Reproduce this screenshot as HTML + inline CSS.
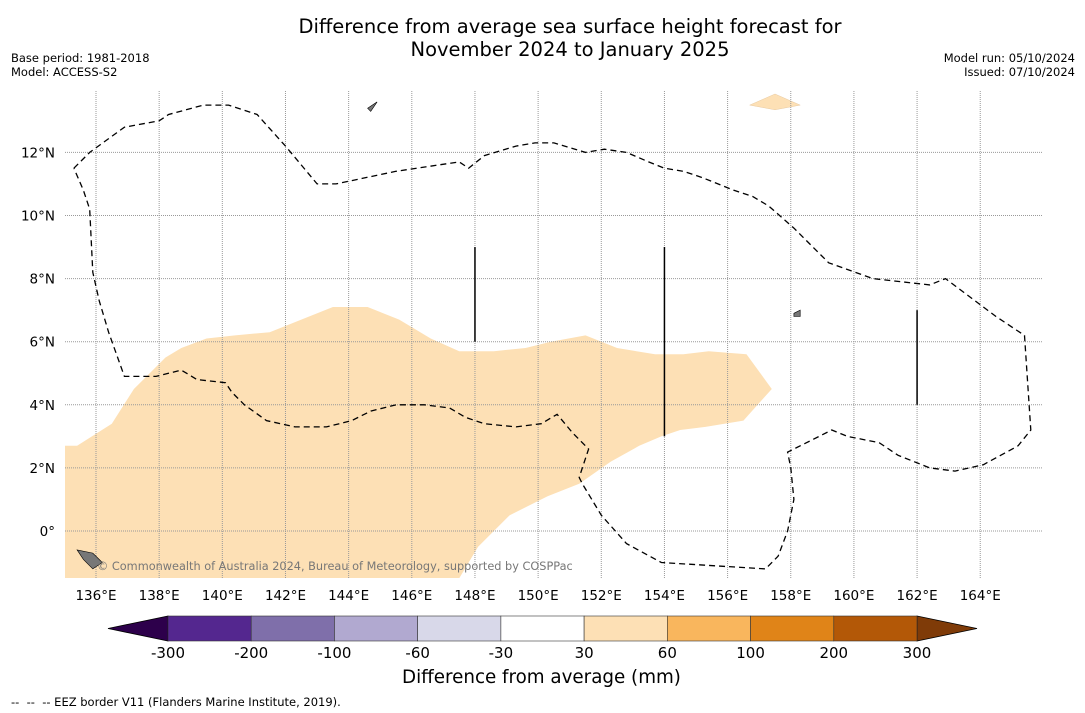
<!DOCTYPE html>
<html><head><meta charset="utf-8"><style>
body{margin:0;background:#fff;font-family:"DejaVu Sans","Liberation Sans",sans-serif;}
#wrap{position:relative;width:1085px;height:713px;overflow:hidden;background:#fff}
.t{position:absolute;white-space:nowrap;color:#000}
</style></head><body>
<div id="wrap">
<div class="t" style="left:0;width:1140px;text-align:center;top:15px;font-size:19.5px;line-height:23px">Difference from average sea surface height forecast for<br>November 2024 to January 2025</div>
<div class="t" style="left:11px;top:51px;font-size:11.5px;line-height:14px">Base period: 1981-2018<br>Model: ACCESS-S2</div>
<div class="t" style="right:10px;top:51px;font-size:11.5px;line-height:14px;text-align:right">Model run: 05/10/2024<br>Issued: 07/10/2024</div>
<svg id="map" width="1085" height="713" style="position:absolute;left:0;top:0"></svg>
<div class="t" style="left:402px;top:667px;font-size:18.3px">Difference from average (mm)</div>
<div class="t" style="left:11px;top:695px;font-size:11.5px">--&nbsp; --&nbsp; -- EEZ border V11 (Flanders Marine Institute, 2019).</div>
</div>
<script>
const lonTicks=[136,138,140,142,144,146,148,150,152,154,156,158,160,162,164];
const latTicks=[0,2,4,6,8,10,12];
const cbBounds=[-300,-200,-100,-60,-30,30,60,100,200,300];
const cbColors=["#54278f","#7f6faa","#b1a9d0","#d8d8e9","#ffffff","#fde0b5","#f9b65d","#e08418","#b35807"];
const anomalyRegion=[[134.9,2.7],[135.4,2.7],[136.5,3.4],[137.2,4.5],[138.2,5.5],[138.7,5.8],[139.5,6.1],[140.4,6.2],[141.5,6.3],[142.5,6.7],[143.5,7.1],[144.6,7.1],[145.6,6.7],[146.6,6.1],[147.5,5.7],[148.6,5.7],[149.6,5.8],[150.4,6.0],[151.5,6.2],[152.5,5.8],[153.7,5.6],[154.6,5.6],[155.4,5.7],[156.6,5.6],[157.4,4.5],[156.5,3.5],[155.3,3.3],[154.5,3.2],[153.9,3.0],[153.2,2.7],[152.3,2.2],[151.3,1.5],[150.3,1.1],[149.1,0.5],[148.1,-0.5],[147.5,-1.5],[134.9,-1.5]];
const smallRegion=[[156.7,13.5],[157.5,13.85],[158.3,13.5],[157.5,13.35]];
const islands=[[[135.4,-0.6],[135.9,-0.7],[136.2,-1.0],[135.9,-1.2],[135.6,-0.9]],[[144.6,13.4],[144.9,13.6],[144.7,13.3]],[[158.1,6.9],[158.3,7.0],[158.3,6.8],[158.1,6.8]]];
const eezBorder=[[135.3,11.5],[135.8,12.0],[136.9,12.8],[138.0,13.0],[138.3,13.2],[139.4,13.5],[140.2,13.5],[141.1,13.2],[142.0,12.2],[143.0,11.0],[143.6,11.0],[145.5,11.4],[147.5,11.7],[147.8,11.5],[148.3,11.9],[149.3,12.2],[149.9,12.3],[150.5,12.3],[151.5,12.0],[152.1,12.1],[152.8,12.0],[153.5,11.7],[154.0,11.5],[154.6,11.4],[155.2,11.2],[156.2,10.8],[156.8,10.6],[157.3,10.3],[158.1,9.6],[159.2,8.5],[160.6,8.0],[162.4,7.8],[162.9,8.0],[164.5,6.8],[165.4,6.2],[165.6,3.2],[165.2,2.7],[164.1,2.1],[163.2,1.9],[162.4,2.0],[161.4,2.4],[160.8,2.8],[159.8,3.0],[159.3,3.2],[158.5,2.8],[157.9,2.5],[158.0,2.0],[158.1,1.0],[157.9,0.0],[157.6,-0.8],[157.2,-1.2],[153.9,-1.0],[152.8,-0.4],[152.0,0.5],[151.4,1.5],[151.3,1.7],[151.6,2.6],[151.1,3.1],[150.6,3.7],[150.1,3.4],[149.3,3.3],[148.3,3.4],[147.7,3.6],[147.2,3.9],[146.4,4.0],[145.5,4.0],[144.7,3.8],[144.1,3.5],[143.3,3.3],[142.3,3.3],[141.4,3.5],[140.7,4.0],[140.3,4.4],[140.1,4.7],[139.2,4.8],[138.7,5.1],[137.9,4.9],[136.9,4.9],[136.4,6.3],[136.1,7.3],[135.9,8.2],[135.8,10.2],[135.6,10.8],[135.3,11.5]];
const boundaryLines=[[148,9.0,6.0],[154,9.0,3.0],[162,7.0,4.0]];
const NS="http://www.w3.org/2000/svg";
const svg=document.getElementById('map');
const X=lon=>96+(lon-136)*31.58;
const Y=lat=>531-lat*31.55;
function mk(t,a){const e=document.createElementNS(NS,t);for(const k in a)e.setAttribute(k,a[k]);svg.appendChild(e);return e;}
const clip=mk('clipPath',{id:'mc'});const cr=document.createElementNS(NS,'rect');
cr.setAttribute('x',65);cr.setAttribute('y',91);cr.setAttribute('width',977);cr.setAttribute('height',487);clip.appendChild(cr);
const pts=a=>a.map(p=>X(p[0]).toFixed(1)+','+Y(p[1]).toFixed(1)).join(' ');
let e=mk('polygon',{points:pts(anomalyRegion),fill:'#fde0b5','clip-path':'url(#mc)'});


e=mk('polygon',{points:pts(smallRegion),fill:'#fde0b5',stroke:'#e8c9a0','stroke-width':0.5});


lonTicks.forEach(l=>{const x=X(l);
 e=mk('line',{x1:x,x2:x,y1:91,y2:578,stroke:'#999','stroke-width':1,'stroke-dasharray':'1,1'});
 
 
 e=mk('text',{x:x,y:600,'text-anchor':'middle','font-size':13.5,'font-family':'DejaVu Sans,sans-serif'});e.textContent=l+'°E';
 
 
});
latTicks.forEach(l=>{const y=Y(l);
 e=mk('line',{x1:65,x2:1042,y1:y,y2:y,stroke:'#999','stroke-width':1,'stroke-dasharray':'1,1'});
 
 
 e=mk('text',{x:55,y:y+5,'text-anchor':'end','font-size':13.5,'font-family':'DejaVu Sans,sans-serif'});e.textContent=l===0?'0°':l+'°N';
 
 
});
islands.forEach(p=>{e=mk('polygon',{points:pts(p),fill:'#777',stroke:'#000','stroke-width':0.6});
 
 });
e=mk('polyline',{points:pts(eezBorder),fill:'none',stroke:'#000','stroke-width':1.3,'stroke-dasharray':'6,4'});


boundaryLines.forEach(b=>{e=mk('line',{x1:X(b[0]),x2:X(b[0]),y1:Y(b[1]),y2:Y(b[2]),stroke:'#000','stroke-width':1.5});
 
 });
e=mk('text',{x:97,y:570,'font-size':11.3,fill:'#777','font-family':'DejaVu Sans,sans-serif'});e.textContent='© Commonwealth of Australia 2024, Bureau of Meteorology, supported by COSPPac';


const cbX0=168,cbX1=917,cbY=616,cbH=25,segW=(cbX1-cbX0)/cbColors.length;
e=mk('polygon',{points:`${cbX0},${cbY} 108,${cbY+cbH/2} ${cbX0},${cbY+cbH}`,fill:'#2d004b',stroke:'#000','stroke-width':0.8});


e=mk('polygon',{points:`${cbX1},${cbY} 977,${cbY+cbH/2} ${cbX1},${cbY+cbH}`,fill:'#7f3b08',stroke:'#000','stroke-width':0.8});


cbColors.forEach((c,i)=>{e=mk('rect',{x:cbX0+i*segW,y:cbY,width:segW,height:cbH,fill:c,stroke:'#333','stroke-width':0.6});
 
 });
cbBounds.forEach((v,i)=>{e=mk('text',{x:cbX0+i*segW,y:658,'text-anchor':'middle','font-size':15,'font-family':'DejaVu Sans,sans-serif'});e.textContent=v;
 
 });
</script>
</body></html>
